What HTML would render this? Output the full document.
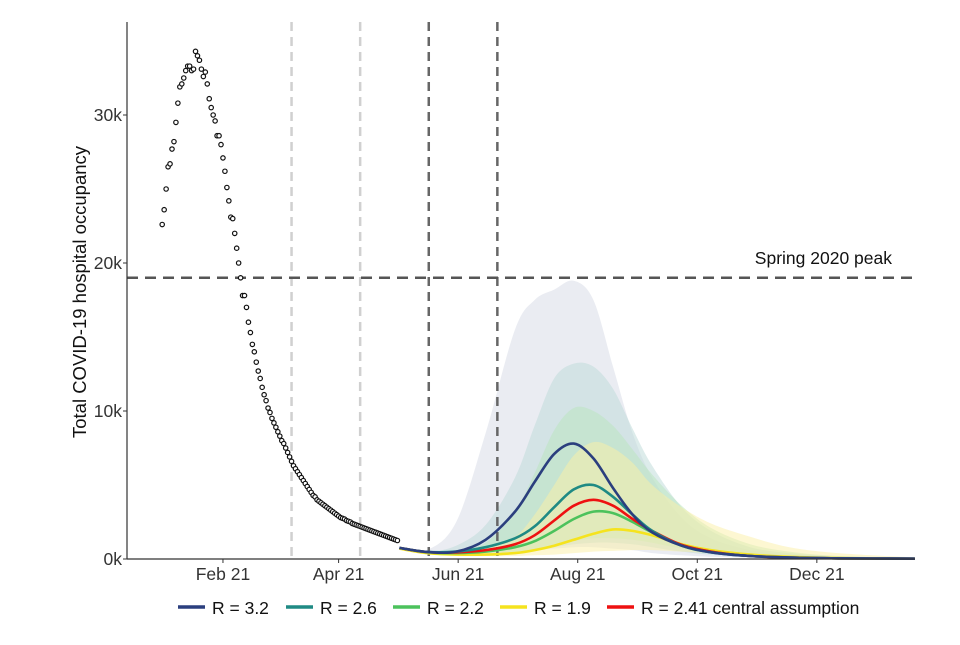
<!DOCTYPE html>
<html><head><meta charset="utf-8"><style>
html,body{margin:0;padding:0;background:#fff;}
svg text{font-family:"Liberation Sans",Arial,sans-serif;}
</style></head><body>
<svg id="chart" width="960" height="640" viewBox="0 0 960 640" xmlns="http://www.w3.org/2000/svg">
<g id="bands"></g>
<g id="refs"></g>
<g id="lines"></g>
<g id="dots"></g>
<g id="axes"></g>
<g id="legend"></g>
</svg>
<script>
// observed daily occupancy (thousands), starting 1 Jan 2021 (day 0)
const obsStartDay = 0;
const observed = [22.6,23.6,25,26.5,26.7,27.7,28.2,29.5,30.8,31.9,32.1,32.5,33,33.3,33.3,33,33.1,34.3,34,33.7,33.1,32.6,32.9,32.1,31.1,30.5,30,29.6,28.6,28.6,28,27.1,26.2,25.1,24.2,23.1,23.0,22.0,21,20,19,17.8,17.8,17,16,15.3,14.5,14,13.3,12.7,12.2,11.6,11.1,10.7,10.2,9.9,9.5,9.2,8.9,8.6,8.3,8.0,7.8,7.5,7.2,6.9,6.6,6.3,6.1,5.9,5.7,5.5,5.3,5.1,4.9,4.7,4.5,4.3,4.2,4.0,3.9,3.8,3.7,3.6,3.5,3.4,3.3,3.2,3.1,3.0,2.9,2.8,2.75,2.7,2.6,2.55,2.5,2.4,2.35,2.3,2.25,2.2,2.15,2.1,2.05,2.0,1.95,1.9,1.85,1.8,1.75,1.7,1.65,1.6,1.55,1.5,1.45,1.4,1.35,1.3,1.25];
// projection days
const projDays = [121,135,150,165,180,190,200,210,220,230,240,250,265,280,300,320,345,384];
const r32 = [0.75,0.48,0.5,1.3,3.2,5.2,7.1,7.8,6.8,4.8,3.0,1.8,0.9,0.45,0.2,0.1,0.05,0.02];
const r32Hi = [0.75,0.6,2.5,8.5,15.5,17.5,18.2,18.8,17.5,13,8.5,5.5,2.8,1.4,0.6,0.3,0.15,0.05];
const r32Lo = [0.75,0.4,0.35,0.4,0.5,0.6,0.7,0.8,0.8,0.7,0.6,0.4,0.25,0.15,0.1,0.05,0.02,0.01];
const r26 = [0.75,0.48,0.5,0.8,1.4,2.2,3.5,4.7,5.0,4.2,3.0,1.9,0.9,0.45,0.2,0.1,0.05,0.02];
const r26Hi = [0.75,0.5,0.9,2.3,5.5,9,12.2,13.2,13,11.5,8.8,6.3,3.5,1.9,0.8,0.4,0.2,0.05];
const r26Lo = [0.75,0.45,0.4,0.4,0.5,0.6,0.8,1,1.1,1.1,1,0.8,0.5,0.3,0.15,0.08,0.03,0.01];
const r22 = [0.75,0.46,0.4,0.5,0.8,1.2,1.9,2.7,3.2,3.1,2.5,1.8,0.95,0.5,0.2,0.1,0.05,0.02];
const r22Hi = [0.75,0.5,0.6,1.1,3.2,5.8,8.7,10.2,10,9,7.4,5.7,3.6,2.1,1,0.5,0.2,0.05];
const r22Lo = [0.7,0.4,0.3,0.3,0.4,0.6,0.9,1.2,1.4,1.4,1.3,1.1,0.7,0.4,0.2,0.1,0.04,0.01];
const r19 = [0.7,0.4,0.3,0.3,0.4,0.6,0.9,1.3,1.7,2.0,1.9,1.6,1.0,0.6,0.3,0.15,0.06,0.02];
const r19Hi = [0.7,0.45,0.5,0.7,1.5,3,5,7,7.9,7.5,6.5,5,3.5,2.4,1.5,0.8,0.4,0.1];
const r19Lo = [0.65,0.35,0.2,0.2,0.2,0.25,0.3,0.4,0.5,0.55,0.6,0.6,0.5,0.4,0.25,0.15,0.07,0.02];
const r241 = [0.75,0.47,0.45,0.6,1.0,1.6,2.6,3.6,4.0,3.6,2.7,1.9,0.95,0.5,0.2,0.1,0.05,0.02];
const yTicks = [0,10,20,30];
const yTickLabels = ["0k","10k","20k","30k"];
const xTickDays = [31,90,151,212,273,334];
const xTickLabels = ["Feb 21","Apr 21","Jun 21","Aug 21","Oct 21","Dec 21"];
const springPeak = 19.0;
const lightVLines = [66,101];
const darkVLines = [136,171];

const NS="http://www.w3.org/2000/svg";
const X0=127,X1=915,Y0=559,YTOP=22;
function x(d){return 162.2+d*1.96;}
function y(v){return 559-v*14.8;}
function mk(tag,attrs,parent){const e=document.createElementNS(NS,tag);for(const k in attrs)e.setAttribute(k,attrs[k]);parent.appendChild(e);return e;}
function smoothPath(pts){
  let d="M"+pts[0][0].toFixed(1)+","+pts[0][1].toFixed(1);
  for(let i=0;i<pts.length-1;i++){
    const p0=pts[Math.max(i-1,0)],p1=pts[i],p2=pts[i+1],p3=pts[Math.min(i+2,pts.length-1)];
    const c1x=p1[0]+(p2[0]-p0[0])/6,c1y=p1[1]+(p2[1]-p0[1])/6;
    const c2x=p2[0]-(p3[0]-p1[0])/6,c2y=p2[1]-(p3[1]-p1[1])/6;
    d+=" C"+c1x.toFixed(1)+","+Math.min(c1y,Y0).toFixed(1)+" "+c2x.toFixed(1)+","+Math.min(c2y,Y0).toFixed(1)+" "+p2[0].toFixed(1)+","+p2[1].toFixed(1);
  }
  return d;
}
function pts(arr){return projDays.map((d,i)=>[x(d),y(arr[i])]);}

const bands=document.getElementById('bands');
const series=[
 {name:'r32',c:r32,hi:r32Hi,lo:r32Lo,col:'#2b3f7e',fill:'#d5d9e6'},
 {name:'r26',c:r26,hi:r26Hi,lo:r26Lo,col:'#1f8a84',fill:'#bcdad8'},
 {name:'r22',c:r22,hi:r22Hi,lo:r22Lo,col:'#4cc25c',fill:'#b9e5bd'},
 {name:'r19',c:r19,hi:r19Hi,lo:r19Lo,col:'#f5e31e',fill:'#fbf0a6'}
];
series.forEach(s=>{
  const up=smoothPath(pts(s.hi));
  const loPts=pts(s.lo).reverse();
  const lo=smoothPath(loPts).replace(/^M/,"L");
  const p=mk('path',{d:up+" "+lo+" Z",fill:s.fill,'fill-opacity':0.5,stroke:'none'},bands);
  
  
});

const refs=document.getElementById('refs');
lightVLines.forEach(d=>{const l=mk('line',{x1:x(d),x2:x(d),y1:YTOP,y2:Y0,stroke:'#d0d0d0','stroke-width':2.5,'stroke-dasharray':'9,6'},refs);

});
darkVLines.forEach(d=>{const l=mk('line',{x1:x(d),x2:x(d),y1:YTOP,y2:Y0,stroke:'#666','stroke-width':2.5,'stroke-dasharray':'9,6'},refs);

});
const hl=mk('line',{x1:X0,x2:X1,y1:y(springPeak),y2:y(springPeak),stroke:'#555','stroke-width':2.5,'stroke-dasharray':'11,7'},refs);


const ht=mk('text',{x:892,y:y(springPeak)-14,'text-anchor':'end','font-size':17.5,fill:'#111'},refs);
ht.textContent='Spring 2020 peak';



const lines=document.getElementById('lines');
[series[3],series[2],{name:'r241',c:r241,col:'#ee1111'},series[1],series[0]].forEach(s=>{
  const p=mk('path',{d:smoothPath(pts(s.c)),fill:'none',stroke:s.col,'stroke-width':2.6},lines);
  
  
});

const dots=document.getElementById('dots');
observed.forEach((v,i)=>{
  const c=mk('circle',{cx:x(obsStartDay+i),cy:y(v),r:2.2,fill:'#fff',stroke:'#111','stroke-width':1.2},dots);
  
  
});

const axes=document.getElementById('axes');
const ya=mk('line',{x1:X0,x2:X0,y1:YTOP,y2:Y0+0.5,stroke:'#333','stroke-width':1.2},axes);


const xa=mk('line',{x1:X0,x2:X1,y1:Y0,y2:Y0,stroke:'#333','stroke-width':1.2},axes);


yTicks.forEach((v,i)=>{
  mk('line',{x1:X0-4,x2:X0,y1:y(v),y2:y(v),stroke:'#333'},axes);
  const t=mk('text',{x:X0-5,y:y(v)+6,'text-anchor':'end','font-size':17.5,fill:'#333'},axes);
  t.textContent=yTickLabels[i];
  
  
});
xTickDays.forEach((d,i)=>{
  mk('line',{x1:x(d),x2:x(d),y1:Y0,y2:Y0+4,stroke:'#333'},axes);
  const t=mk('text',{x:x(d),y:Y0+21,'text-anchor':'middle','font-size':17.5,fill:'#333'},axes);
  t.textContent=xTickLabels[i];
  
  
});
const yt=mk('text',{x:0,y:0,'text-anchor':'middle','font-size':18.5,fill:'#111',transform:'translate(86,292) rotate(-90)'},axes);
yt.textContent='Total COVID-19 hospital occupancy';



const legend=document.getElementById('legend');
const legItems=[['R = 3.2','#2b3f7e',178],['R = 2.6','#1f8a84',286],['R = 2.2','#4cc25c',393],['R = 1.9','#f5e31e',500],['R = 2.41 central assumption','#ee1111',607]];
legItems.forEach(it=>{
  const l=mk('line',{x1:it[2],x2:it[2]+27,y1:607,y2:607,stroke:it[1],'stroke-width':3.5},legend);
  
  
  const t=mk('text',{x:it[2]+34,y:614,'font-size':17.5,fill:'#111'},legend);
  t.textContent=it[0];
  
  
});
</script>
</body></html>
